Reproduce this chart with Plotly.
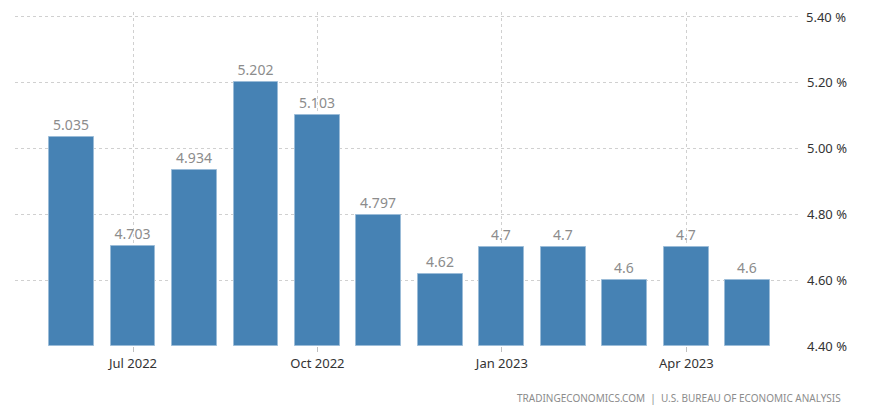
import plotly.graph_objects as go

months = ["Jun 2022", "Jul 2022", "Aug 2022", "Sep 2022", "Oct 2022", "Nov 2022",
          "Dec 2022", "Jan 2023", "Feb 2023", "Mar 2023", "Apr 2023", "May 2023"]
values = [5.035, 4.703, 4.934, 5.202, 5.103, 4.797, 4.62, 4.7, 4.7, 4.6, 4.7, 4.6]
labels = ["5.035", "4.703", "4.934", "5.202", "5.103", "4.797", "4.62", "4.7", "4.7", "4.6", "4.7", "4.6"]
tick_months = ["Jul 2022", "Oct 2022", "Jan 2023", "Apr 2023"]
y_ticks = [4.4, 4.6, 4.8, 5.0, 5.2, 5.4]
y_ticktext = ["4.40 %", "4.60 %", "4.80 %", "5.00 %", "5.20 %", "5.40 %"]

xpos = list(range(len(months)))
tickvals = [months.index(m) for m in tick_months]

fig = go.Figure()
fig.add_trace(go.Bar(
    x=xpos, y=[v - 4.4 for v in values], base=4.4,
    width=0.73,
    marker=dict(color="#4682B4", line=dict(color="#9BBCD8", width=1)),
    text=labels, textposition="outside",
    textfont=dict(color="#8C8C8C", size=14, family="Noto Sans"),
    cliponaxis=False,
    hoverinfo="skip",
))

fig.update_layout(
    width=869, height=414,
    margin=dict(l=7, r=77, t=4, b=76, autoexpand=False),
    paper_bgcolor="white", plot_bgcolor="white",
    showlegend=False,
    font=dict(family="Noto Sans", color="#333333"),
    bargap=0,
)
fig.update_xaxes(
    range=[-0.92, 11.85], automargin=False,
    tickvals=tickvals, ticktext=tick_months,
    showgrid=True, gridcolor="#D0D0D0", griddash="dot", gridwidth=1,
    ticks="outside", ticklen=5, tickcolor="#C0C0C0",
    tickfont=dict(size=13, color="#333333"),
    zeroline=False, showline=False,
)
# top tick label is drawn as an annotation (plotly drops labels that overflow the page top)
fig.update_yaxes(
    side="right", range=[4.4, 5.415], automargin=False,
    tickvals=y_ticks, ticktext=y_ticktext[:-1] + [""],
    showgrid=True, gridcolor="#D0D0D0", griddash="dot", gridwidth=1,
    tickfont=dict(size=13, color="#333333"),
    zeroline=False, showline=False, ticklabelstandoff=6,
)
fig.add_annotation(
    text=y_ticktext[-1], xref="paper", yref="y", x=1, y=y_ticks[-1],
    xanchor="left", yanchor="middle", xshift=4, showarrow=False,
    font=dict(size=13, color="#333333", family="Noto Sans"),
)
fig.add_annotation(
    text="TRADINGECONOMICS.COM  |  U.S. BUREAU OF ECONOMIC ANALYSIS",
    xref="paper", yref="paper", x=(843 - 15) / 785, y=0,
    xanchor="right", yanchor="middle", yshift=-52, showarrow=False,
    font=dict(size=10, color="#8C8C8C", family="Noto Sans"),
)
fig.write_html("out.html")
